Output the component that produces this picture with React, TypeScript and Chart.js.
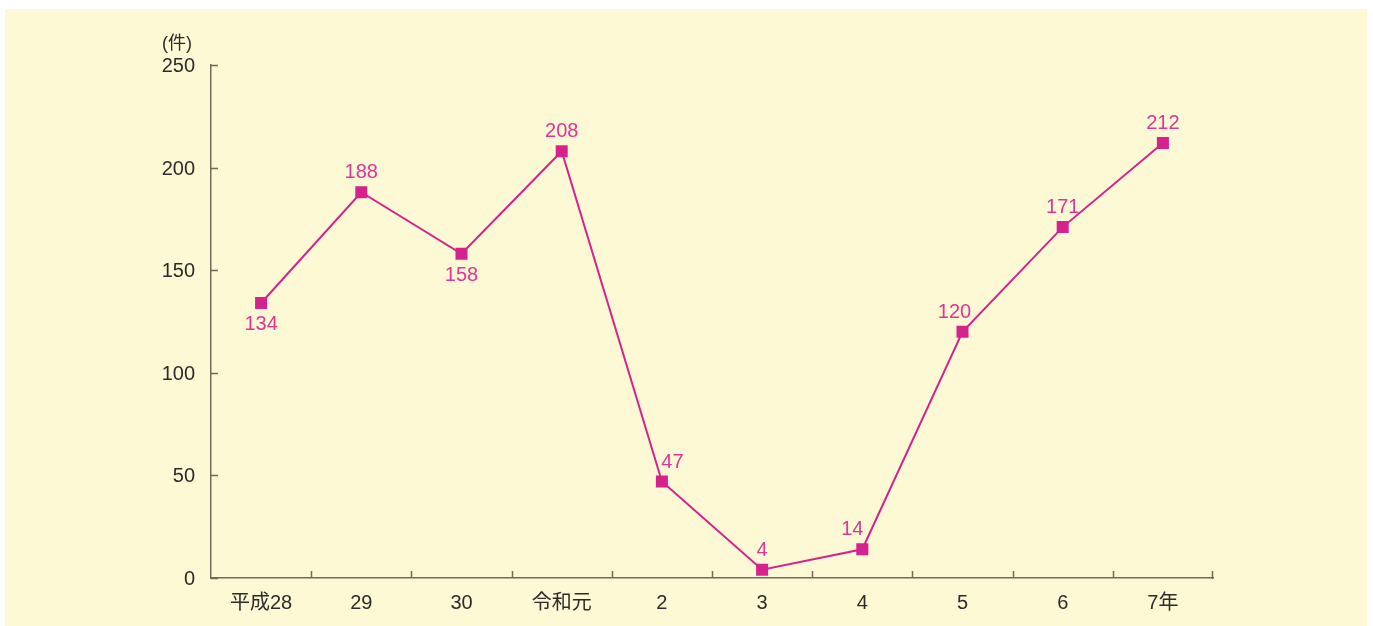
import React, { useEffect, useRef } from "react";
import { Chart, registerables } from "chart.js";

Chart.register(...registerables);

const categories = ["平成28", "29", "30", "令和元", "2", "3", "4", "5", "6", "7年"];
const cases = [134, 188, 158, 208, 47, 4, 14, 120, 171, 212];
const yTicks = [0, 50, 100, 150, 200, 250];
const unitLabel = "(件)";
const labelPlacement = ["below", "above", "below", "above", "aboveRight", "above", "aboveLeft", "aboveLeft", "above", "above"];

const FONT = "'Liberation Sans', Arial, 'Noto Sans CJK JP', sans-serif";
const AXIS = "#716a5d";
const PINK = "#d6228d";
const LABEL_PINK = "#de3597";
const TEXT = "#2b2b2b";
const BG = "#fef9d5";

const decorPlugin = {
  id: "decor",
  afterDatasetsDraw(chart: any) {
    const { ctx, chartArea, scales } = chart;
    const x = scales.x;
    const y = scales.y;
    ctx.save();
    ctx.strokeStyle = AXIS;
    ctx.lineWidth = 1.5;
    ctx.beginPath();
    yTicks.forEach((v) => {
      const py = Math.round(y.getPixelForValue(v)) + 0.5;
      ctx.moveTo(chartArea.left, py);
      ctx.lineTo(chartArea.left + 7, py);
    });
    const n = categories.length;
    for (let i = 1; i < n; i++) {
      const px = Math.round((x.getPixelForValue(i - 1) + x.getPixelForValue(i)) / 2) + 0.5;
      ctx.moveTo(px, chartArea.bottom);
      ctx.lineTo(px, chartArea.bottom - 7);
    }
    const rx = Math.round(chartArea.right) - 0.5;
    ctx.moveTo(rx, chartArea.bottom + 1);
    ctx.lineTo(rx, chartArea.bottom - 7);
    ctx.stroke();

    const meta = chart.getDatasetMeta(0);
    ctx.font = `20px ${FONT}`;
    ctx.fillStyle = LABEL_PINK;
    ctx.textAlign = "center";
    ctx.textBaseline = "middle";
    meta.data.forEach((pt: any, i: number) => {
      const p = labelPlacement[i];
      let dx = 0;
      let dy = -20.5;
      if (p === "below") dy = 20.5;
      if (p === "aboveRight") dx = 10.5;
      if (p === "aboveLeft") dx = i === 6 ? -10 : -8;
      ctx.fillText(String(cases[i]), pt.x + dx, pt.y + dy + 1);
    });

    ctx.font = `18px ${FONT}`;
    ctx.fillStyle = TEXT;
    ctx.fillText(unitLabel, 172, 35);
    ctx.restore();
  },
};

export default function App() {
  const ref = useRef<HTMLCanvasElement>(null);
  useEffect(() => {
    if (!ref.current) return;
    const chart = new Chart(ref.current, {
      type: "line",
      data: {
        labels: categories,
        datasets: [
          {
            data: cases,
            borderColor: PINK,
            backgroundColor: PINK,
            borderWidth: 2,
            pointStyle: "rect",
            pointRadius: 8.5,
            pointBorderWidth: 0,
            pointBackgroundColor: PINK,
            tension: 0,
          },
        ],
      },
      options: {
        responsive: false,
        animation: false,
        layout: { padding: { left: 0, top: 56, right: 154, bottom: 0 } },
        plugins: { legend: { display: false }, tooltip: { enabled: false }, title: { display: false } },
        scales: {
          x: {
            type: "category",
            offset: true,
            grid: { display: false, drawTicks: false },
            border: { display: true, color: AXIS, width: 1.5 },
            ticks: { color: TEXT, font: { size: 20, family: FONT }, padding: 13, maxRotation: 0, autoSkip: false },
            afterFit: (s: any) => {
              s.height = 48;
            },
          },
          y: {
            min: 0,
            max: 250,
            grid: { display: false, drawTicks: false },
            border: { display: true, color: AXIS, width: 1.5 },
            ticks: { stepSize: 50, color: TEXT, font: { size: 20, family: FONT }, padding: 16, labelOffset: 1.5 },
            afterFit: (s: any) => {
              s.width = 206;
            },
          },
        },
      },
      plugins: [decorPlugin],
    });
    return () => chart.destroy();
  }, []);
  return (
    <div style={{ position: "absolute", left: 5, top: 9, width: 1362, height: 617, background: BG }}>
      <canvas ref={ref} width={1362} height={617} style={{ display: "block" }} />
    </div>
  );
}
